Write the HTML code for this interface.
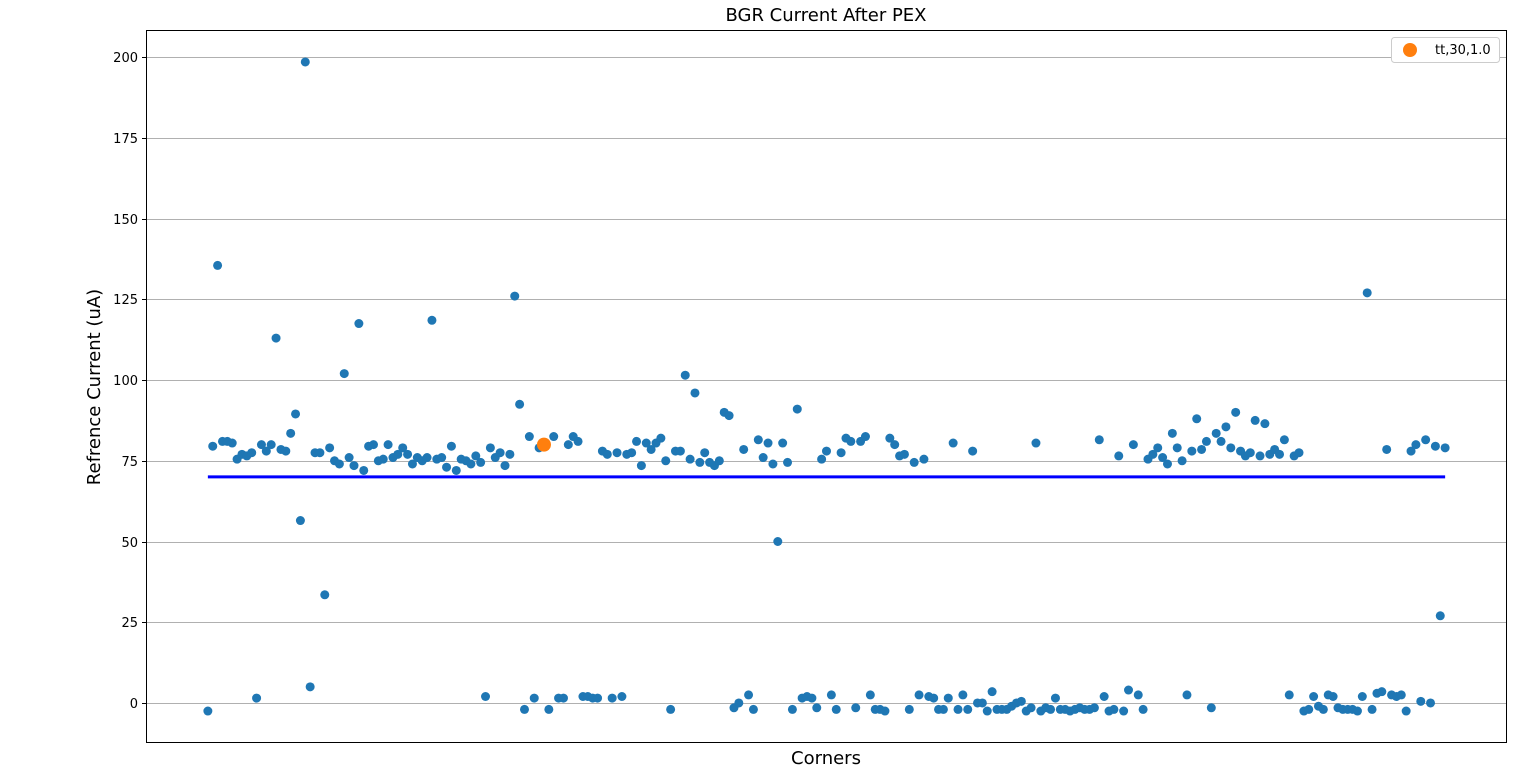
<!DOCTYPE html>
<html><head><meta charset="utf-8"><style>
html,body{margin:0;padding:0;background:#fff;}
svg{display:block;font-family:"DejaVu Sans","Liberation Sans",sans-serif;}
</style></head><body>
<svg id="chart" width="1536" height="774" viewBox="0 0 1536 774" xmlns="http://www.w3.org/2000/svg">
<rect x="0" y="0" width="1536" height="774" fill="#fff"/>
<g id="grid"></g>
<g id="yticks"></g>
<g id="marks"></g>
<rect x="146.5" y="30.5" width="1360" height="712" fill="none" stroke="#000" stroke-width="1"/>
<text x="826" y="21" text-anchor="middle" font-size="18">BGR Current After PEX</text>
<text x="826" y="764" text-anchor="middle" font-size="18">Corners</text>
<text transform="translate(100,387) rotate(-90)" text-anchor="middle" font-size="18">Refrence Current (uA)</text>
<g>
<rect x="1391.5" y="37.5" width="108" height="25" rx="3" fill="#fff" stroke="#ccc"/>
<circle cx="1410" cy="50" r="7" fill="#ff7f0e"/>
<text x="1435" y="54" font-size="13">tt,30,1.0</text>
</g>
</svg>
<script>
const values = [-2.5,79.5,135.5,81,81,80.5,75.5,77,76.5,77.5,1.5,80,78,80,113,78.5,78,83.5,89.5,56.5,198.5,5,77.5,77.5,33.5,79,75,74,102,76,73.5,117.5,72,79.5,80,75,75.5,80,76,77,79,77,74,76,75,76,118.5,75.5,76,73,79.5,72,75.5,75,74,76.5,74.5,2,79,76,77.5,73.5,77,126,92.5,-2,82.5,1.5,79,80,-2,82.5,1.5,1.5,80,82.5,81,2,2,1.5,1.5,78,77,1.5,77.5,2,77,77.5,81,73.5,80.5,78.5,80.5,82,75,-2,78,78,101.5,75.5,96,74.5,77.5,74.5,73.5,75,90,89,-1.5,0,78.5,2.5,-2,81.5,76,80.5,74,50,80.5,74.5,-2,91,1.5,2,1.5,-1.5,75.5,78,2.5,-2,77.5,82,81,-1.5,81,82.5,2.5,-2,-2,-2.5,82,80,76.5,77,-2,74.5,2.5,75.5,2,1.5,-2,-2,1.5,80.5,-2,2.5,-2,78,0,0,-2.5,3.5,-2,-2,-2,-1,0,0.5,-2.5,-1.5,80.5,-2.5,-1.5,-2,1.5,-2,-2,-2.5,-2,-1.5,-2,-2,-1.5,81.5,2,-2.5,-2,76.5,-2.5,4,80,2.5,-2,75.5,77,79,76,74,83.5,79,75,2.5,78,88,78.5,81,-1.5,83.5,81,85.5,79,90,78,76.5,77.5,87.5,76.5,86.5,77,78.5,77,81.5,2.5,76.5,77.5,-2.5,-2,2,-1,-2,2.5,2,-1.5,-2,-2,-2,-2.5,2,127,-2,3,3.5,78.5,2.5,2,2.5,-2.5,78,80,0.5,81.5,0,79.5,27,79];
const highlightIndex = [69];
const highlightValue = [80];
const limitValue = [70];
const yTicks = [0,25,50,75,100,125,150,175,200];

const NS = "http://www.w3.org/2000/svg";
const X0 = 146, X1 = 1507, Y0 = 30, Y1 = 743;
const n = values.length;
const xmin = -0.05*(n-1), xmax = 1.05*(n-1);
const ymin = -12.4, ymax = 208.4;
const sx = v => X0 + (v - xmin)/(xmax - xmin)*(X1 - X0);
const sy = v => Y1 - (v - ymin)/(ymax - ymin)*(Y1 - Y0);

const grid = document.getElementById('grid');
const yt = document.getElementById('yticks');
yTicks.forEach(t => {
  const y = Math.round(sy(t)) + 0.5;
  const gl = document.createElementNS(NS,'line');
  
  
  gl.setAttribute('x1', X0); gl.setAttribute('x2', X1);
  gl.setAttribute('y1', y); gl.setAttribute('y2', y);
  gl.setAttribute('stroke', '#b0b0b0'); gl.setAttribute('stroke-width', '1');
  grid.appendChild(gl);
  const tk = document.createElementNS(NS,'line');
  
  
  tk.setAttribute('x1', X0 - 4); tk.setAttribute('x2', X0);
  tk.setAttribute('y1', y); tk.setAttribute('y2', y);
  tk.setAttribute('stroke', '#000');
  yt.appendChild(tk);
  const tl = document.createElementNS(NS,'text');
  
  
  tl.setAttribute('x', X0 - 8); tl.setAttribute('y', y + 4.5);
  tl.setAttribute('text-anchor', 'end'); tl.setAttribute('font-size', '13');
  tl.textContent = t;
  yt.appendChild(tl);
});

const marks = document.getElementById('marks');
values.forEach((v, i) => {
  const c = document.createElementNS(NS,'circle');
  
  
  c.setAttribute('cx', sx(i)); c.setAttribute('cy', sy(v));
  c.setAttribute('r', '4.5'); c.setAttribute('fill', '#1f77b4');
  marks.appendChild(c);
});
const hl = document.createElementNS(NS,'line');


hl.setAttribute('x1', sx(0)); hl.setAttribute('x2', sx(n-1));
hl.setAttribute('y1', sy(limitValue[0])); hl.setAttribute('y2', sy(limitValue[0]));
hl.setAttribute('stroke', '#0000ff'); hl.setAttribute('stroke-width', '3');
marks.appendChild(hl);
highlightIndex.forEach((hi, k) => {
  const c = document.createElementNS(NS,'circle');
  
  
  c.setAttribute('cx', sx(hi)); c.setAttribute('cy', sy(highlightValue[k]));
  c.setAttribute('r', '7'); c.setAttribute('fill', '#ff7f0e');
  marks.appendChild(c);
});
</script>
</body></html>
